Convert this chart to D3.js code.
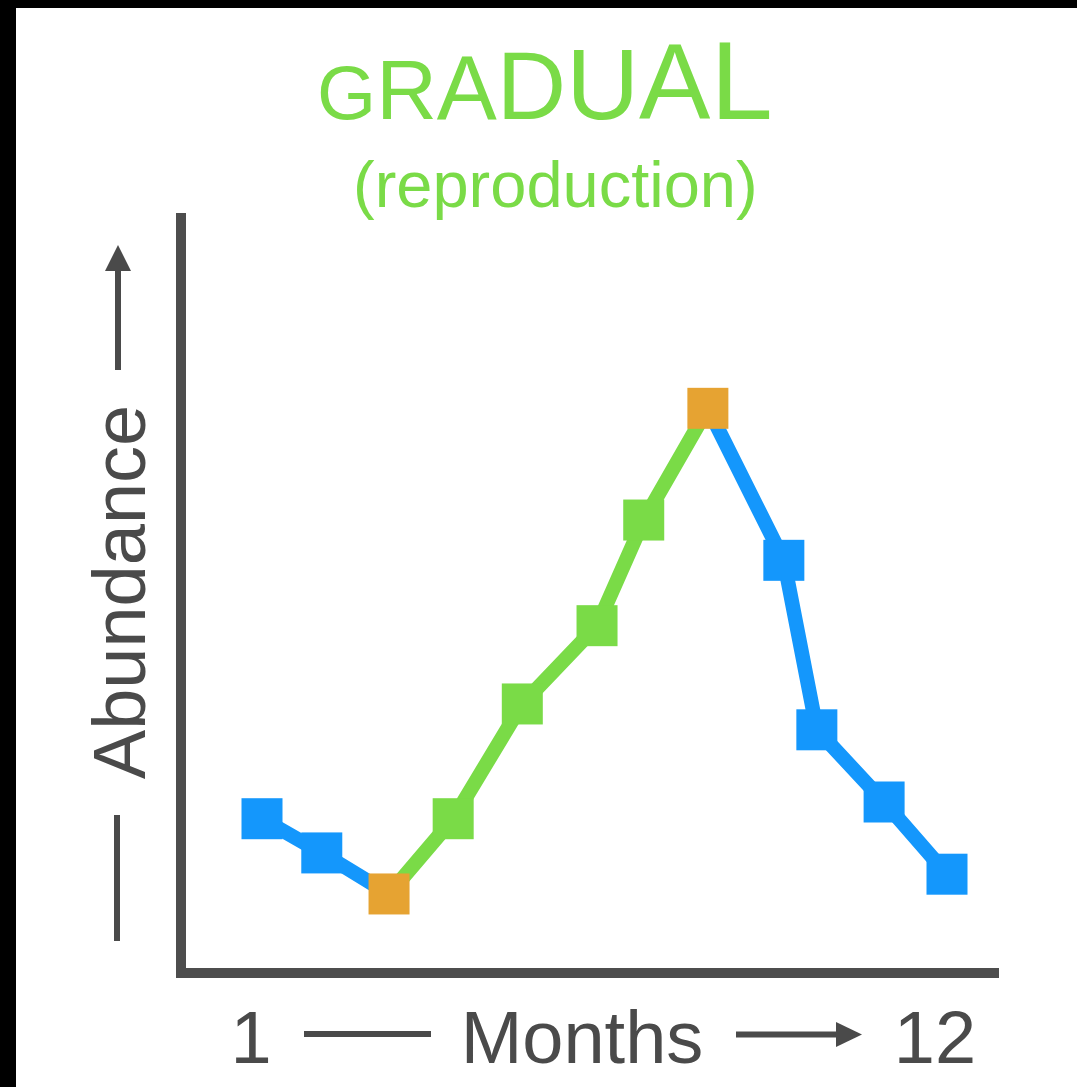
<!DOCTYPE html>
<html>
<head>
<meta charset="utf-8">
<script src="https://cdn.jsdelivr.net/npm/d3@7"></script>
<style>
  html, body { margin: 0; padding: 0; background: #000; }
  svg { display: block; }
</style>
</head>
<body>
<script>
// ---- data ----
const months = [1, 1.96, 3.04, 4.07, 5.18, 6.38, 7.13, 8.16, 9.38, 9.91, 10.99, 12];
const abundance = [20.3, 15.8, 10.4, 20.3, 35.4, 45.7, 59.6, 74.3, 54.3, 32.0, 22.5, 13.0];
const phase = ["decline", "decline", "turn", "rise", "rise", "rise", "rise", "turn", "decline", "decline", "decline", "decline"];
const segments = [
  { kind: "decline", from: 0, to: 2 },
  { kind: "rise", from: 2, to: 7 },
  { kind: "decline", from: 7, to: 11 }
];
const titleLetters = ["G", "R", "A", "D", "U", "A", "L"];
const titleSizes = [76, 84, 90, 96, 101, 107, 112];
const subtitle = "(reproduction)";
const xLabel = "Months";
const yLabel = "Abundance";
const xTickLabels = ["1", "12"];

// ---- styles ----
const colors = { decline: "#1497fc", rise: "#7adb47", turn: "#e6a332" };
const axisColor = "#4d4d4d";
const textColor = "#4a4a4a";
const W = 1077, H = 1087;

const svg = d3.select("body").append("svg").attr("width", W).attr("height", H);
svg.append("rect").attr("width", W).attr("height", H).attr("fill", "#000");
svg.append("rect").attr("x", 16).attr("y", 8).attr("width", W - 16).attr("height", H - 8).attr("fill", "#fff");

const x = d3.scaleLinear().domain([1, 12]).range([262, 947]);
const y = d3.scaleLinear().domain([0, 100]).range([973, 213]);

// axes
svg.append("line").attr("x1", 181).attr("x2", 181).attr("y1", y(100)).attr("y2", 978)
  .attr("stroke", axisColor).attr("stroke-width", 10);
svg.append("line").attr("x1", 176).attr("x2", 999).attr("y1", y(0)).attr("y2", y(0))
  .attr("stroke", axisColor).attr("stroke-width", 10);

// lines
const pts = months.map((m, i) => [x(m), y(abundance[i])]);
const line = d3.line();
svg.selectAll("path.seg").data(segments).join("path")
  .attr("class", "seg")
  .attr("d", s => line(pts.slice(s.from, s.to + 1)))
  .attr("fill", "none")
  .attr("stroke", s => colors[s.kind])
  .attr("stroke-width", 14.5)
  .attr("stroke-linejoin", "miter");

// markers
const ms = 41;
svg.selectAll("rect.mk").data(months).join("rect")
  .attr("class", "mk")
  .attr("x", (m) => x(m) - ms / 2)
  .attr("y", (m, i) => y(abundance[i]) - ms / 2)
  .attr("width", ms).attr("height", ms)
  .attr("fill", (m, i) => colors[phase[i]]);

// title
const font = "'Helvetica Neue', Helvetica, 'Liberation Sans', Arial, sans-serif";
const title = svg.append("text").attr("x", 317).attr("y", 119)
  .attr("font-family", font).attr("font-weight", 300).attr("fill", colors.rise);
title.selectAll("tspan").data(titleLetters).join("tspan")
  .attr("font-size", (d, i) => titleSizes[i])
  .text(d => d);

svg.append("text").attr("x", 353).attr("y", 207)
  .attr("font-family", font).attr("font-size", 65).attr("fill", colors.rise)
  .text(subtitle);

// y label with arrow
svg.append("text")
  .attr("transform", "translate(145,592) rotate(-90)")
  .attr("text-anchor", "middle")
  .attr("font-family", font).attr("font-size", 74).attr("fill", textColor)
  .text(yLabel);
svg.append("line").attr("x1", 118).attr("x2", 118).attr("y1", 370).attr("y2", 268)
  .attr("stroke", textColor).attr("stroke-width", 6);
svg.append("path").attr("d", d3.line()([[118, 245], [131, 271], [105, 271]]) + "Z").attr("fill", textColor);
svg.append("line").attr("x1", 117).attr("x2", 117).attr("y1", 815).attr("y2", 941)
  .attr("stroke", textColor).attr("stroke-width", 6);

// x label
svg.append("text").attr("x", 251).attr("y", 1063).attr("text-anchor", "middle")
  .attr("font-family", font).attr("font-size", 74).attr("fill", textColor).text(xTickLabels[0]);
svg.append("line").attr("x1", 304).attr("x2", 431).attr("y1", 1034).attr("y2", 1034)
  .attr("stroke", textColor).attr("stroke-width", 6);
svg.append("text").attr("x", 582).attr("y", 1063).attr("text-anchor", "middle")
  .attr("font-family", font).attr("font-size", 74).attr("fill", textColor).text(xLabel);
svg.append("line").attr("x1", 736).attr("x2", 840).attr("y1", 1034.5).attr("y2", 1034.5)
  .attr("stroke", textColor).attr("stroke-width", 6);
svg.append("path").attr("d", d3.line()([[862, 1034.5], [836, 1022], [836, 1047]]) + "Z").attr("fill", textColor);
svg.append("text").attr("x", 935).attr("y", 1063).attr("text-anchor", "middle")
  .attr("font-family", font).attr("font-size", 74).attr("fill", textColor).text(xTickLabels[1]);
</script>
</body>
</html>
